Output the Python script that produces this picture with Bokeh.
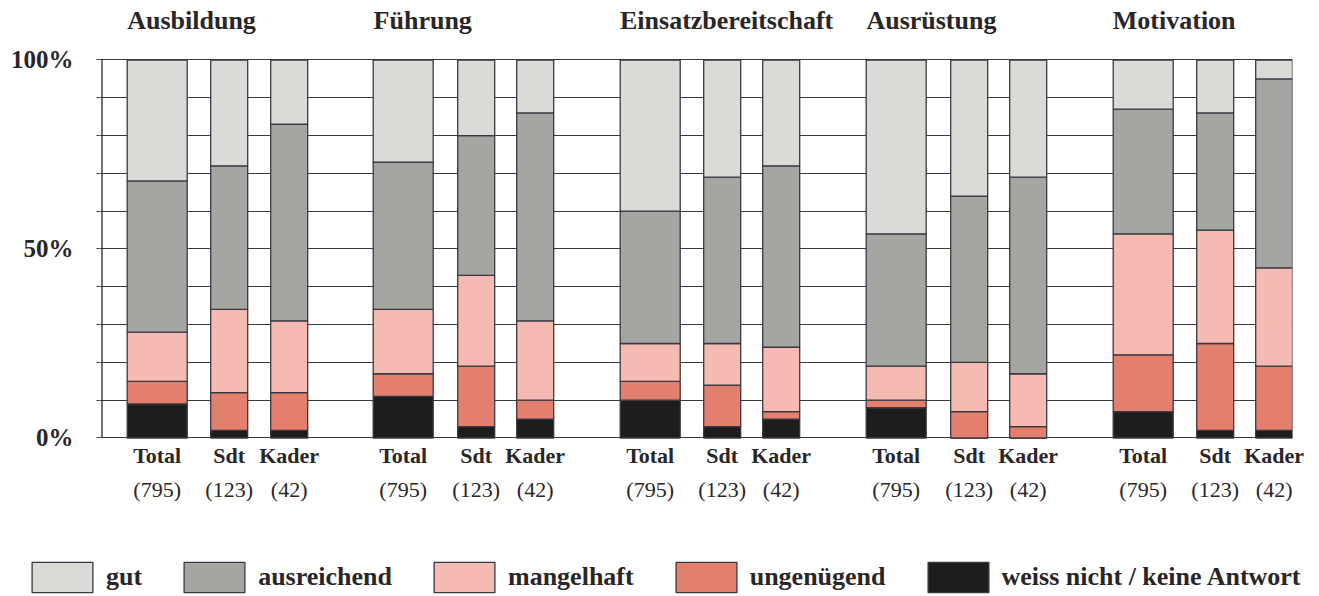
from bokeh.plotting import figure
from bokeh.models import (ColumnDataSource, Range1d, FixedTicker, LinearAxis,
                          Legend, LegendItem)
from bokeh.core.properties import value
from bokeh.embed import file_html
from bokeh.resources import INLINE

# ---------------- data ----------------
groups = ["Ausbildung", "Führung", "Einsatzbereitschaft", "Ausrüstung", "Motivation"]
subgroups = ["Total", "Sdt", "Kader"]
sample_sizes = ["(795)", "(123)", "(42)"]

# values in %, order: per group Total, Sdt, Kader
gut =         [32, 28, 17,  27, 20, 14,  40, 31, 28,  46, 36, 31,  13, 14,  5]
ausreichend = [40, 38, 52,  39, 37, 55,  35, 44, 48,  35, 44, 52,  33, 31, 50]
mangelhaft =  [13, 22, 19,  17, 24, 21,  10, 11, 17,   9, 13, 14,  32, 30, 26]
ungenuegend = [ 6, 10, 10,   6, 16,  5,   5, 11,  2,   2,  7,  3,  15, 23, 17]
weiss =       [ 9,  2,  2,  11,  3,  5,  10,  3,  5,   8,  0,  0,   7,  2,  2]

legend_labels = ["gut", "ausreichend", "mangelhaft", "ungenügend",
                 "weiss nicht / keine Antwort"]
y_ticks = [0, 50, 100]

# ---------------- layout / style ----------------
GROUP_STEP = 246.4
SUB_OFFSET = [0.0, 72.5, 131.6]
SUB_WIDTH = [60, 37, 37]

FONT = "Liberation Serif"
TEXT = "#2a2527"
DARK = "#3b3742"
COLORS = {"gut": "#dadbd6", "ausreichend": "#a4a6a2", "mangelhaft": "#f5bab1",
          "ungenuegend": "#e27f6d", "weiss": "#1f1c1c"}
stackers = ["weiss", "ungenuegend", "mangelhaft", "ausreichend", "gut"]

xs, ws, tick_names, tick_sizes = [], [], {}, {}
for gi in range(len(groups)):
    for si in range(len(subgroups)):
        x = int(round(gi * GROUP_STEP + SUB_OFFSET[si]))
        xs.append(x)
        ws.append(SUB_WIDTH[si])
        tick_names[x] = subgroups[si]
        tick_sizes[x] = sample_sizes[si]

source = ColumnDataSource(dict(x=xs, w=ws, gut=gut, ausreichend=ausreichend,
                               mangelhaft=mangelhaft, ungenuegend=ungenuegend,
                               weiss=weiss))

W = 1319
H_MAIN, H_LEG = 540, 56
FRAME_H = 439
PX_PER_PCT = 3.78
X0 = -57.7
p = figure(width=W, height=H_MAIN, output_backend="svg", toolbar_location=None,
           x_range=Range1d(X0, X0 + 1193),
           y_range=Range1d(-0.4, -0.4 + FRAME_H / PX_PER_PCT),
           x_axis_location=None, min_border_left=99, min_border_right=27,
           min_border_top=0, min_border_bottom=H_MAIN - FRAME_H)
p.outline_line_color = None
p.background_fill_color = "white"
p.border_fill_color = "white"

# y axis (ticks + labels); the axis line is drawn only from 0 to 100 %
yax = p.yaxis[0]
yax.ticker = FixedTicker(ticks=list(range(0, 101, 10)), minor_ticks=[])
overrides = {t: "" for t in range(0, 101, 10)}
for t in y_ticks:
    overrides[t] = f"{t}%"
yax.major_label_overrides = overrides
yax.major_label_text_font = FONT
yax.major_label_text_font_style = "bold"
yax.major_label_text_font_size = "25px"
yax.major_label_text_color = TEXT
yax.major_label_standoff = 23
yax.major_tick_out = 3
yax.major_tick_in = 0
yax.major_tick_line_color = DARK
yax.major_tick_line_width = 1.2
yax.axis_line_color = None

p.ygrid.ticker = FixedTicker(ticks=list(range(0, 101, 10)))
p.ygrid.grid_line_color = DARK
p.ygrid.grid_line_width = 1.2
p.xgrid.visible = False

p.segment(x0=[X0 + 2.5], y0=[min(y_ticks)], x1=[X0 + 2.5], y1=[max(y_ticks)],
          line_color=DARK, line_width=1.4)

p.vbar_stack(stackers, x="x", width="w", source=source,
             fill_color=[COLORS[s] for s in stackers],
             line_color=DARK, line_width=1.3)

# group titles above the bars
title_src = ColumnDataSource(dict(
    x=[gi * GROUP_STEP - SUB_WIDTH[0] / 2 for gi in range(len(groups))],
    y=[110.5] * len(groups), text=groups))
p.text(x="x", y="y", text="text", source=title_src,
       text_font=value(FONT), text_font_style="bold", text_font_size="26px",
       text_color=TEXT, text_align="left", text_baseline="alphabetic")

# bottom axes: subgroup names and sample sizes
tick_list = sorted(tick_names)
ax1 = LinearAxis(ticker=FixedTicker(ticks=tick_list, minor_ticks=[]),
                 major_label_overrides=tick_names)
ax2 = LinearAxis(ticker=FixedTicker(ticks=tick_list, minor_ticks=[]),
                 major_label_overrides=tick_sizes)
for ax, style, standoff in ((ax1, "bold", 3), (ax2, "normal", 6)):
    ax.axis_line_color = None
    ax.major_tick_line_color = None
    ax.minor_tick_line_color = None
    ax.major_tick_out = 0
    ax.major_tick_in = 0
    ax.major_label_text_font = FONT
    ax.major_label_text_font_style = style
    ax.major_label_text_font_size = "22px"
    ax.major_label_text_color = TEXT
    ax.major_label_standoff = standoff
    p.add_layout(ax, "below")

# ---------------- legend strip (separate root, full-width frame) ----------------
q = figure(width=W, height=H_LEG, output_backend="svg", toolbar_location=None,
           x_range=Range1d(0, W), y_range=Range1d(0, H_LEG),
           x_axis_location=None, y_axis_location=None,
           min_border_left=0, min_border_right=0, min_border_top=0,
           min_border_bottom=0)
q.outline_line_color = None
q.background_fill_color = "white"
q.border_fill_color = "white"
q.grid.visible = False

nan = float("nan")
order = ["gut", "ausreichend", "mangelhaft", "ungenuegend", "weiss"]
items = []
for lbl, k in zip(legend_labels, order):
    # legend proxy: one undrawable (NaN) bar carrying the category's style
    r = q.vbar(x=[nan], top=[nan], width=1, fill_color=COLORS[k],
               line_color=DARK, line_width=1.3)
    items.append(LegendItem(label=lbl, renderers=[r]))
legend = Legend(items=items, orientation="horizontal", location=(24, 0),
                border_line_color=None, background_fill_alpha=0, padding=0,
                margin=0, spacing=34, glyph_width=76, glyph_height=38,
                label_height=38, label_standoff=6, label_text_font=FONT,
                label_text_font_style="bold", label_text_font_size="26px",
                label_text_color=TEXT)
q.add_layout(legend)

open("out.html", "w").write(file_html([p, q], INLINE))
